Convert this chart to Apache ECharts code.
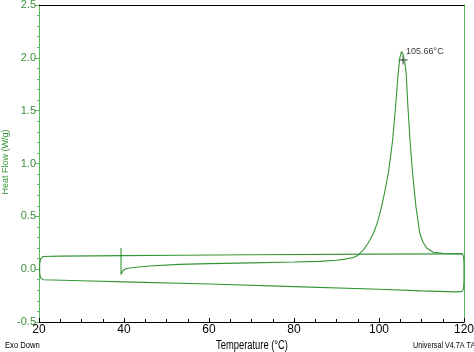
<!DOCTYPE html>
<html>
<head>
<meta charset="utf-8">
<script src="https://cdn.jsdelivr.net/npm/echarts@6/dist/echarts.min.js"></script>
<style>
  html, body { margin: 0; padding: 0; background: #fff; }
  #chart { width: 474px; height: 352px; }
</style>
</head>
<body>
<div id="chart"></div>
<script>
// DSC trace: [temperature degC, heat flow W/g]
var firstHeating = [
    [39.3, 0.20], [39.3, -0.05], [39.8, -0.01], [40.6, 0.007], [42.2, 0.016],
    [46, 0.03], [53, 0.045], [60, 0.052], [70, 0.06], [80, 0.068], [86, 0.074],
    [90, 0.085], [92, 0.095], [94, 0.11], [95, 0.13], [96.3, 0.18], [97.5, 0.25],
    [98.7, 0.34], [99.7, 0.45], [100.6, 0.59], [101.4, 0.74], [102.2, 0.91],
    [102.7, 1.06], [103.2, 1.22], [103.9, 1.54], [104.5, 1.85], [104.9, 2.0],
    [105.3, 2.06], [105.7, 2.03], [106.1, 1.95], [106.4, 1.85], [106.8, 1.54],
    [107.3, 1.22], [107.9, 0.91], [108.7, 0.59], [109.6, 0.34], [110.3, 0.26],
    [111.2, 0.2], [112.8, 0.16], [115, 0.15], [119.6, 0.145]
];
var cooling = [
    [119.6, 0.145], [119.9, 0.12], [120, 0.05], [120, -0.1], [119.9, -0.18],
    [119.6, -0.21], [118, -0.215], [110, -0.205], [100, -0.19], [80, -0.165],
    [60, -0.14], [40, -0.12], [30, -0.11], [21.0, -0.10], [20.4, -0.085],
    [20.15, -0.04]
];
var secondHeating = [
    [20.15, -0.04], [20.15, 0.05], [20.4, 0.10], [21.0, 0.12], [25, 0.123],
    [40, 0.128], [53, 0.132], [70, 0.136], [99, 0.142], [119.6, 0.145]
];
var peakPoint = [[105.66, 1.98]];
var peakLabel = '105.66°C';

var green = '#359535';
var axisGreen = '#5cb85c';
var font = 'Liberation Sans';

var chart = echarts.init(document.getElementById('chart'));

function traceSeries(data) {
    return {
        type: 'line',
        data: data,
        showSymbol: false,
        smooth: false,
        lineStyle: { color: green, width: 1.1 },
        silent: true,
        animation: false
    };
}

// condensed-looking footer text, like the instrument printout
function footText(text, x, align, size, sx) {
    return {
        type: 'text', x: x, y: 346, scaleX: sx,
        style: {
            text: text, fill: '#000', font: size + 'px "Liberation Sans"',
            textAlign: align, textVerticalAlign: 'middle'
        }
    };
}

var option = {
    animation: false,
    grid: { left: 39, right: 10, top: 5, bottom: 30, outerBoundsMode: 'none' },
    xAxis: [{
        type: 'value',
        min: 20,
        max: 120,
        interval: 20,
        axisLine: { onZero: false, lineStyle: { color: '#000', width: 1 } },
        axisTick: { inside: true, length: 4, lineStyle: { color: '#000' } },
        minorTick: { show: true, splitNumber: 4, length: 3, lineStyle: { color: '#000' } },
        axisLabel: { color: '#000', fontFamily: font, fontSize: 12, margin: 2 },
        splitLine: { show: false }
    }, {
        type: 'value',
        position: 'top',
        min: 20,
        max: 120,
        axisLine: { show: true, onZero: false, lineStyle: { color: '#000', width: 1 } },
        axisTick: { show: false },
        axisLabel: { show: false },
        splitLine: { show: false }
    }],
    yAxis: [{
        type: 'value',
        min: -0.5,
        max: 2.5,
        interval: 0.5,
        axisLine: { show: true, onZero: false, lineStyle: { color: axisGreen, width: 1 } },
        axisTick: { show: true, length: 4, lineStyle: { color: axisGreen } },
        minorTick: { show: true, splitNumber: 5, length: 2, lineStyle: { color: axisGreen } },
        axisLabel: {
            color: '#3e8e3e', fontFamily: font, fontSize: 11, margin: 3,
            formatter: function (v) { return v.toFixed(1); }
        },
        splitLine: { show: false }
    }, {
        type: 'value',
        position: 'right',
        min: -0.5,
        max: 2.5,
        axisLine: { show: true, onZero: false, lineStyle: { color: axisGreen, width: 1 } },
        axisTick: { show: false },
        axisLabel: { show: false },
        splitLine: { show: false }
    }],
    series: [
        traceSeries(firstHeating),
        traceSeries(cooling),
        traceSeries(secondHeating),
        {
            type: 'scatter',
            data: peakPoint,
            symbol: 'path://M0,5L10,5M5,0L5,10',
            symbolSize: 9,
            itemStyle: { color: 'rgba(0,0,0,0)', borderColor: '#000', borderWidth: 1 },
            label: {
                show: true,
                position: [8, -8],
                formatter: peakLabel,
                color: '#000',
                fontFamily: font,
                fontSize: 9
            },
            silent: true
        }
    ],
    graphic: [
        {
            type: 'text', x: 6, y: 162, rotation: Math.PI / 2,
            style: {
                text: 'Heat Flow (W/g)', fill: green, font: '9px "Liberation Sans"',
                textAlign: 'center', textVerticalAlign: 'middle'
            }
        },
        footText('Exo Down', 5, 'left', 9, 0.85),
        footText('Temperature (°C)', 252, 'center', 12, 0.78),
        footText('Universal V4.7A TA Instruments', 413, 'left', 9, 0.8)
    ]
};

chart.setOption(option);
</script>
</body>
</html>
